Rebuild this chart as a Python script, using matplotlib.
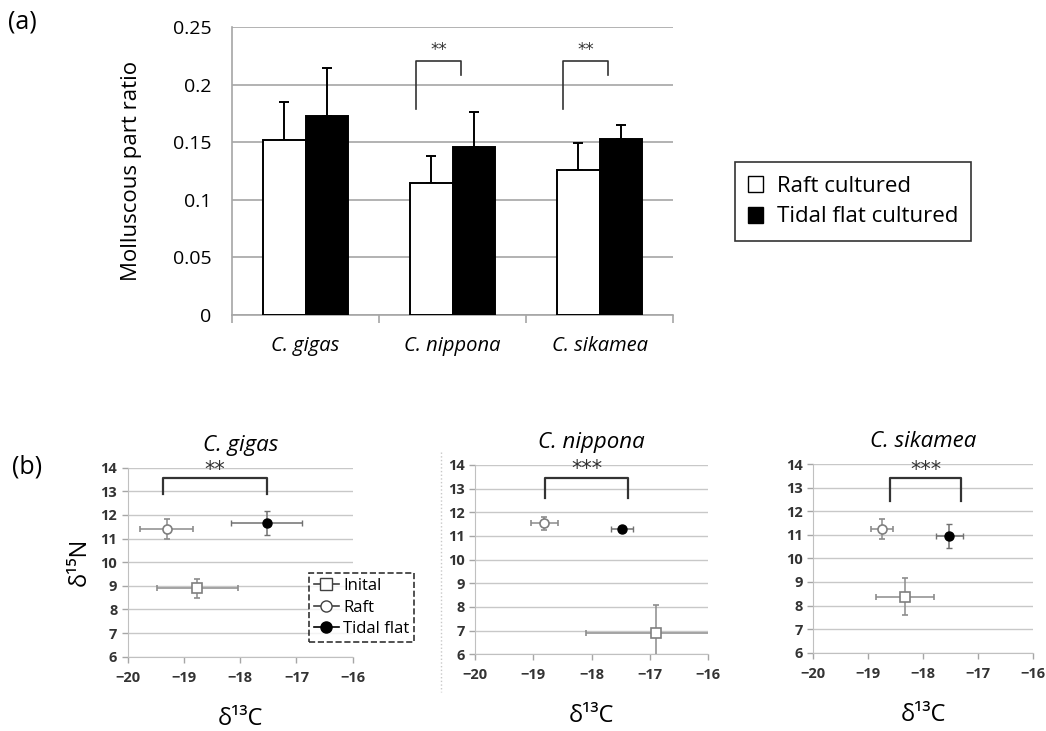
import numpy as np
import matplotlib
matplotlib.use("Agg")
import matplotlib.pyplot as plt
from matplotlib.patches import Patch
from matplotlib.lines import Line2D

plt.rcParams['font.family'] = ['Open Sans', 'DejaVu Sans']

W, H = 1046, 731

# ---- (a) bar chart data ----
species = ['C. gigas', 'C. nippona', 'C. sikamea']
raft_ratio = [0.152, 0.115, 0.126]
raft_sd = [0.033, 0.023, 0.023]
tidal_ratio = [0.173, 0.146, 0.153]
tidal_sd = [0.041, 0.030, 0.012]
bar_sig = ['', '**', '**']

# ---- (b) isotope data: d13C +- sd, d15N +- sd ----
initial_c = [-18.76, -16.90, -18.33]
initial_c_sd = [0.72, 1.20, 0.53]
initial_n = [8.89, 6.89, 8.38]
initial_n_sd = [0.39, 1.20, 0.78]
raft_c = [-19.31, -18.81, -18.75]
raft_c_sd = [0.47, 0.23, 0.20]
raft_n = [11.40, 11.54, 11.23]
raft_n_sd = [0.41, 0.28, 0.42]
tidal_c = [-17.53, -17.48, -17.52]
tidal_c_sd = [0.63, 0.19, 0.25]
tidal_n = [11.67, 11.30, 10.95]
tidal_n_sd = [0.50, 0.10, 0.50]
iso_sig = ['**', '***', '***']
# bracket ends (d13C) and heights (d15N)
br_left = [-19.38, -18.79, -18.60]
br_right = [-17.53, -17.37, -17.30]
br_top = [13.55, 13.45, 13.39]
br_bot = [12.89, 12.60, 12.45]

fig = plt.figure(figsize=(W / 100, H / 100), dpi=100)


def box(x0, y0, x1, y1):
    return [x0 / W, 1 - y1 / H, (x1 - x0) / W, (y1 - y0) / H]


grid_c = '#a6a6a6'
tick_c = '#404040'
star_font = ['DejaVu Sans']

# ================= (a) =================
ax = fig.add_axes(box(232, 27, 673, 315))
x = np.arange(len(species))
bw = 0.29
ax.bar(x - bw / 2, raft_ratio, bw, color='white', edgecolor='black', lw=1.4, zorder=3)
ax.bar(x + bw / 2, tidal_ratio, bw, color='black', edgecolor='black', lw=1.4, zorder=3)
ax.errorbar(x - bw / 2, raft_ratio, yerr=[np.zeros(3), raft_sd], fmt='none',
            ecolor='black', elinewidth=1.4, capsize=3.5, capthick=1.4, zorder=2)
ax.errorbar(x + bw / 2, tidal_ratio, yerr=[np.zeros(3), tidal_sd], fmt='none',
            ecolor='black', elinewidth=1.4, capsize=3.5, capthick=1.4, zorder=2)
for i, s in enumerate(bar_sig):
    if not s:
        continue
    xl, xr = i - 0.245, i + 0.06
    ax.plot([xl, xl, xr, xr], [0.179, 0.2205, 0.2205, 0.208], color='#333333', lw=1.2, zorder=3)
    ax.text((xl + xr) / 2, 0.2225, s, ha='center', va='bottom', fontsize=12,
            color='#333333', family=star_font)

ax.set_xlim(-0.5, 2.5)
ax.set_ylim(0, 0.25)
ax.set_yticks([0, 0.05, 0.1, 0.15, 0.2, 0.25])
ax.set_yticklabels(['0', '0.05', '0.1', '0.15', '0.2', '0.25'], fontsize=14)
ax.set_xticks(x)
ax.set_xticklabels(species, fontsize=14.5, style='italic')
ax.set_xticks([-0.5, 0.5, 1.5, 2.5], minor=True)
ax.tick_params(axis='x', which='major', length=0, pad=15)
ax.tick_params(axis='x', which='minor', length=6, color=grid_c, width=1.2)
ax.tick_params(axis='y', length=0, pad=15)
ax.yaxis.grid(True, color=grid_c, lw=1.2)
ax.set_axisbelow(True)
for sp in ['top', 'right']:
    ax.spines[sp].set_visible(False)
for sp in ['left', 'bottom']:
    ax.spines[sp].set_color(grid_c)
    ax.spines[sp].set_linewidth(1.2)
ax.set_ylabel('Molluscous part ratio', fontsize=16, labelpad=22)

leg1 = fig.legend(handles=[Patch(facecolor='white', edgecolor='black', lw=1),
                           Patch(facecolor='black', edgecolor='black', lw=1)],
                  labels=['Raft cultured', 'Tidal flat cultured'],
                  loc='center', bbox_to_anchor=(853 / W, 1 - 201.5 / H), fontsize=16,
                  handlelength=0.7, handleheight=0.7, handletextpad=0.6, labelspacing=0.45,
                  frameon=True, fancybox=False, edgecolor='black', borderpad=0.6)
leg1.get_frame().set_linewidth(1.2)

fig.text(8 / W, 1 - 22 / H, '(a)', fontsize=18, va='center', ha='left')

# ================= (b) =================
panel_boxes = [box(127.7, 467.7, 352.7, 656.7),
               box(475, 465, 708, 654.3),
               box(813.3, 464, 1032.7, 652.7)]
ecol = '#8c8c8c'
for i, pb in enumerate(panel_boxes):
    a = fig.add_axes(pb)
    a.errorbar(initial_c[i], initial_n[i], xerr=initial_c_sd[i], yerr=initial_n_sd[i],
               fmt='s', ms=6.5, mfc='white', mec='#7f7f7f', mew=1.2, ecolor=ecol,
               elinewidth=1.1, capsize=2, zorder=3)
    a.errorbar(raft_c[i], raft_n[i], xerr=raft_c_sd[i], yerr=raft_n_sd[i],
               fmt='o', ms=6.5, mfc='white', mec='#7f7f7f', mew=1.2, ecolor=ecol,
               elinewidth=1.1, capsize=2, zorder=3)
    a.errorbar(tidal_c[i], tidal_n[i], xerr=tidal_c_sd[i], yerr=tidal_n_sd[i],
               fmt='o', ms=6.5, mfc='black', mec='black', ecolor='#707070',
               elinewidth=1.1, capsize=2, zorder=3)
    xl, xr = br_left[i], br_right[i]
    a.plot([xl, xl, xr, xr], [br_bot[i], br_top[i], br_top[i], br_bot[i]],
           color='#333333', lw=1.6, zorder=3, clip_on=False)
    a.text((xl + xr) / 2, br_top[i] - 0.05, iso_sig[i], ha='center', va='bottom',
           fontsize=15, color='#333333', family=star_font)
    a.set_xlim(-20, -16)
    a.set_ylim(6, 14)
    a.set_xticks([-20, -19, -18, -17, -16])
    a.set_yticks(range(6, 15))
    a.tick_params(labelsize=10.5, colors=grid_c, labelcolor='#333333', length=4, width=1)
    a.tick_params(axis='x', pad=6)
    for lab in a.get_xticklabels() + a.get_yticklabels():
        lab.set_fontweight('bold')
    a.yaxis.grid(True, color='#c8c8c8', lw=1)
    a.set_axisbelow(True)
    for sp in ['top', 'right']:
        a.spines[sp].set_visible(False)
    for sp in ['left', 'bottom']:
        a.spines[sp].set_color('#c0c0c0')
    a.set_title(species[i], fontsize=16, style='italic', pad=12)
    a.set_xlabel('δ¹³C', fontsize=17, labelpad=16)
    if i == 0:
        a.set_ylabel('δ¹⁵N', fontsize=17, labelpad=6)

# panel separator
fig.add_artist(Line2D([441 / W, 441 / W], [1 - 452 / H, 1 - 692 / H], color='#c8c8c8',
                      lw=1, ls=':'))

leg_handles = [
    Line2D([], [], color='#404040', lw=1.2, marker='s', ms=8, mfc='white', mec='#404040'),
    Line2D([], [], color='#404040', lw=1.2, marker='o', ms=8, mfc='white', mec='#404040'),
    Line2D([], [], color='black', lw=1.2, marker='o', ms=8, mfc='black', mec='black'),
]
leg2 = fig.legend(handles=leg_handles, labels=['Inital', 'Raft', 'Tidal flat'],
                  loc='center', bbox_to_anchor=(361.5 / W, 1 - 607.5 / H), fontsize=12,
                  handlelength=1.5, handletextpad=0.25, labelspacing=0.35,
                  frameon=True, fancybox=False, edgecolor='black', borderpad=0.3,
                  borderaxespad=0)
leg2.get_frame().set_linestyle('--')
leg2.get_frame().set_linewidth(1.2)

fig.text(12 / W, 1 - 467 / H, '(b)', fontsize=18, va='center', ha='left')

fig.savefig('out.png', dpi=100)
